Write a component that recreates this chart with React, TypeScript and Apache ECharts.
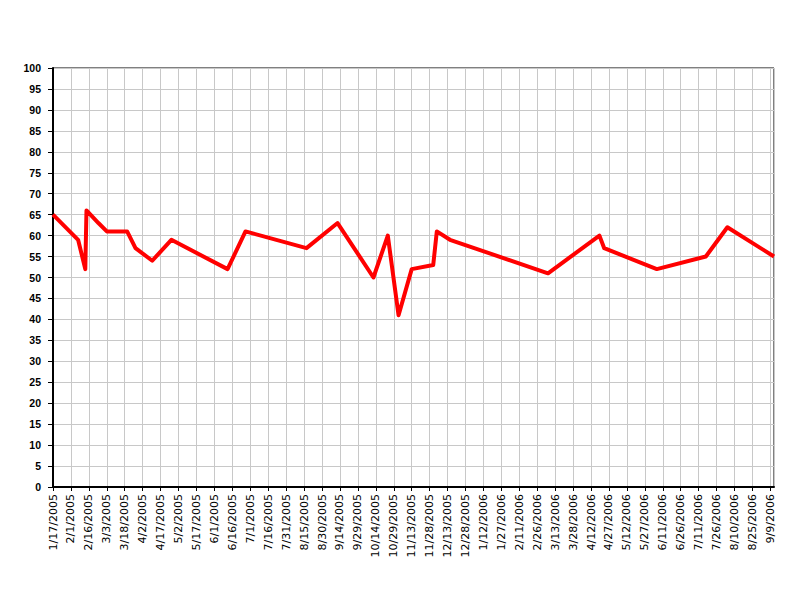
import React, { useEffect, useRef } from "react";
import * as echarts from "echarts";

const START_DATE = "2005-01-17";
const AXIS_END_DAY = 603;
const TICK_DAYS = 15;

const pointDates = [
  "2005-01-17", "2005-02-07", "2005-02-13", "2005-02-14", "2005-02-24",
  "2005-03-03", "2005-03-20", "2005-03-27", "2005-04-10", "2005-04-26",
  "2005-06-12", "2005-06-27", "2005-08-17", "2005-09-12", "2005-10-12",
  "2005-10-24", "2005-11-02", "2005-11-13", "2005-12-01", "2005-12-04",
  "2005-12-15", "2006-03-07", "2006-04-19", "2006-04-23", "2006-06-06",
  "2006-07-17", "2006-08-04", "2006-09-12",
];
const pointValues = [
  65, 59, 52, 66, 63,
  61, 61, 57, 54, 59,
  52, 61, 57, 63, 50,
  60, 41, 52, 53, 61,
  59, 51, 60, 57, 52,
  55, 62, 55,
];

const DAY_MS = 86400000;
const toUTC = (s: string) => {
  const [y, m, d] = s.split("-").map(Number);
  return Date.UTC(y, m - 1, d);
};
const startMs = toUTC(START_DATE);
const dayOffset = (s: string) => Math.round((toUTC(s) - startMs) / DAY_MS);
const formatDay = (v: number) => {
  const d = new Date(startMs + Math.round(v) * DAY_MS);
  return `${d.getUTCMonth() + 1}/${d.getUTCDate()}/${d.getUTCFullYear()}`;
};

export default function App() {
  const ref = useRef<HTMLDivElement>(null);
  useEffect(() => {
    if (!ref.current) return;
    const chart = echarts.init(ref.current, undefined, { renderer: "svg" });
    const data = pointDates.map((d, i) => [dayOffset(d), pointValues[i]]);
    chart.setOption({
      animation: false,
      backgroundColor: "#ffffff",
      grid: {
        left: 53,
        top: 68,
        right: 26,
        bottom: 113,
        show: true,
        borderColor: "#000000",
        borderWidth: 1,
        backgroundColor: "transparent",
      },
      xAxis: {
        type: "value",
        min: 0,
        max: AXIS_END_DAY,
        interval: TICK_DAYS,
        axisLine: { show: true, onZero: false, lineStyle: { color: "#000", width: 2 } },
        axisTick: { show: true, length: 4, lineStyle: { color: "#000" } },
        splitLine: { show: true, lineStyle: { color: "#c8c8c8", width: 1 } },
        axisLabel: {
          rotate: 90,
          margin: 7,
          showMaxLabel: false,
          color: "#000",
          fontFamily: "DejaVu Sans, Verdana, sans-serif",
          fontSize: 11,
          formatter: (v: number) => formatDay(v),
        },
      },
      yAxis: {
        type: "value",
        min: 0,
        max: 100,
        interval: 5,
        axisLine: { show: true, lineStyle: { color: "#000", width: 2 } },
        axisTick: { show: true, length: 5, lineStyle: { color: "#000" } },
        splitLine: { show: true, lineStyle: { color: "#c8c8c8", width: 1 } },
        axisLabel: {
          margin: 12,
          color: "#000",
          fontFamily: "Liberation Sans, Arial, sans-serif",
          fontSize: 10.5,
          fontWeight: "bold",
        },
      },
      series: [
        {
          type: "line",
          data,
          showSymbol: false,
          symbol: "none",
          lineStyle: { color: "#ff0000", width: 4, join: "round" },
        },
      ],
    });
    return () => chart.dispose();
  }, []);
  return (
    <div
      ref={ref}
      style={{ position: "fixed", left: 0, top: 0, width: 800, height: 600 }}
    />
  );
}
